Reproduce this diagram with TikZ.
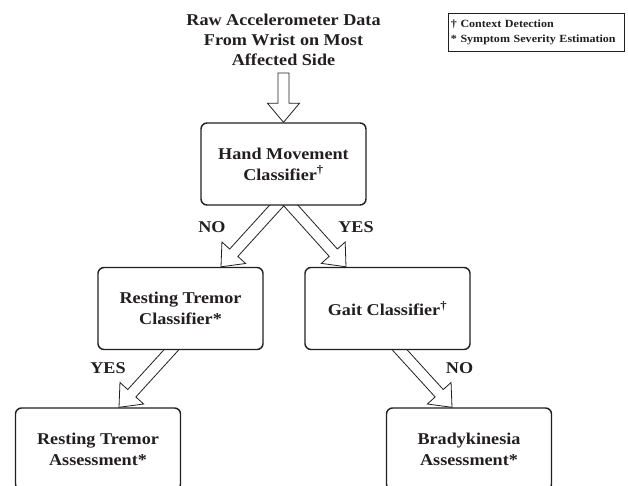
\documentclass[tikz,border=0pt]{standalone}
\usepackage{fontspec}
\setmainfont{Liberation Serif}[FakeStretch=1.1]
\usetikzlibrary{calc}
\pgfdeclarelayer{bg}
\pgfsetlayers{bg,main}
\definecolor{ink}{RGB}{35,31,32}
% #1 start, #2 tip, #3 pull-back of start, #4 closing
\newcommand{\hollowarrow}[4]{%
  \path ($(#1)!-#3!(#2)$) coordinate (hs);
  \path ($(#2)!19pt!(#1)$) coordinate (hc);
  \draw[harrow] ($(hs)!5.5pt!90:(#2)$) -- ($(hc)!5.5pt!90:(#2)$) -- ($(hc)!16pt!90:(#2)$)
     -- (#2) -- ($(hc)!16pt!-90:(#2)$) -- ($(hc)!5.5pt!-90:(#2)$) -- ($(hs)!5.5pt!-90:(#2)$) #4;
}
\begin{document}
\begin{tikzpicture}[x=1pt,y=-1pt,
  box/.style={draw=ink, line width=1.4pt, rounded corners=6pt, fill=white,
    minimum width=165pt, minimum height=82pt, align=center, inner sep=0pt,
    text=ink, font=\bfseries\fontsize{16.5}{21}\selectfont},
  lbl/.style={text=ink, font=\bfseries\fontsize{16.5}{20}\selectfont, inner sep=0pt},
  harrow/.style={draw=ink, line width=0.8pt, fill=white, line join=miter}]
\clip (0,0) rectangle (628,486);

% title and legend
\node[lbl, align=center] (title) at (283.5,40)
  {Raw Accelerometer Data\\From Wrist on Most\\Affected Side};
\node[draw=ink, line width=0.7pt, anchor=north west, inner xsep=2.5pt, inner ysep=6.5pt,
  text width=171pt, align=left, text=ink, font=\bfseries\fontsize{10.95}{15}\selectfont]
  (leg) at (448,13) {\mbox{† Context Detection}\\\mbox{* Symptom Severity Estimation}};

% boxes
\node[box] (hm) at (283.5,164) {Hand Movement\\Classifier\textsuperscript{†}};
\node[box] (rtc) at (180.5,308.5) {Resting Tremor\\Classifier*};
\node[box] (gc) at (387.5,308.5) {Gait Classifier\textsuperscript{†}};
\node[box] (rta) at (98,449) {Resting Tremor\\Assessment*};
\node[box] (bka) at (469,449) {Bradykinesia\\Assessment*};

% labels
\node[lbl] (no1) at (212,227) {NO};
\node[lbl] (yes1) at (356,227) {YES};
\node[lbl] (yes2) at (108,368) {YES};
\node[lbl] (no2) at (459.5,368) {NO};

% connector end points
\coordinate (t0) at (283.5,73);
\coordinate (a1s) at ($(hm.south)+(-7,0)$);
\coordinate (a1e) at ($(rtc.north)+(40.5,0)$);
\coordinate (a2s) at ($(hm.south)+(7.5,0)$);
\coordinate (a2e) at ($(gc.north)+(-41.5,0)$);
\coordinate (a3s) at ($(rtc.south)+(-9.5,0)$);
\coordinate (a3e) at ($(rta.north)+(21,0)$);
\coordinate (a4s) at ($(gc.south)+(12.5,0)$);
\coordinate (a4e) at ($(bka.north)+(-17,0)$);

\begin{pgfonlayer}{bg}
\hollowarrow{t0}{hm.north}{0pt}{-- cycle}
\hollowarrow{a1s}{a1e}{10pt}{}
\hollowarrow{a2s}{a2e}{10pt}{}
\hollowarrow{a3s}{a3e}{10pt}{}
\hollowarrow{a4s}{a4e}{10pt}{}
\end{pgfonlayer}
\end{tikzpicture}
\end{document}
